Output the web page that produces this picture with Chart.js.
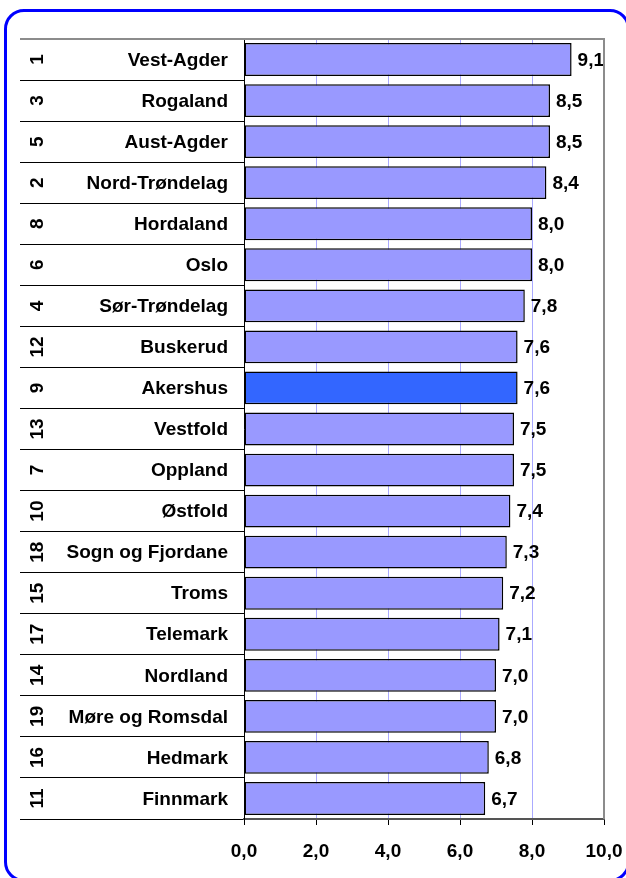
<!DOCTYPE html>
<html>
<head>
<meta charset="utf-8">
<script src="https://cdn.jsdelivr.net/npm/chart.js@4/dist/chart.umd.min.js"></script>
<style>
  html, body { margin: 0; padding: 0; background: #fff; }
  #wrap { position: relative; width: 626px; height: 878px; overflow: hidden; }
  #frame {
    position: absolute; left: 4px; top: 9px; width: 620px; height: 867px;
    border: 3px solid #0000ff; border-radius: 20px; pointer-events: none;
  }
  canvas { position: absolute; left: 0; top: 0; }
</style>
</head>
<body>
<div id="wrap">
  <canvas id="chart" width="626" height="878"></canvas>
  <div id="frame"></div>
</div>
<script>
// Fylker sorted by score, with rank shown in the left column
const counties = ['Vest-Agder', 'Rogaland', 'Aust-Agder', 'Nord-Trøndelag', 'Hordaland', 'Oslo',
  'Sør-Trøndelag', 'Buskerud', 'Akershus', 'Vestfold', 'Oppland', 'Østfold', 'Sogn og Fjordane',
  'Troms', 'Telemark', 'Nordland', 'Møre og Romsdal', 'Hedmark', 'Finnmark'];
const ranks = ['1', '3', '5', '2', '8', '6', '4', '12', '9', '13', '7', '10', '18', '15', '17', '14', '19', '16', '11'];
const scores = [9.1, 8.5, 8.5, 8.4, 8.0, 8.0, 7.8, 7.6, 7.6, 7.5, 7.5, 7.4, 7.3, 7.2, 7.1, 7.0, 7.0, 6.8, 6.7];
const xTicks = [0, 2, 4, 6, 8, 10];
const highlight = 'Akershus';

const FONT = "bold 19px 'Liberation Sans', Arial, sans-serif";
const fmt = v => v.toFixed(1).replace('.', ',');

// Names, rotated rank numbers, value labels and the plot frame
const tablePlugin = {
  id: 'table',
  afterDraw(chart) {
    const ctx = chart.ctx;
    const area = chart.chartArea;
    const yScale = chart.scales.y;
    ctx.save();
    ctx.font = FONT;
    ctx.fillStyle = '#000';
    ctx.textBaseline = 'middle';

    counties.forEach((name, i) => {
      const y = yScale.getPixelForValue(i);
      ctx.textAlign = 'right';
      ctx.fillText(name, area.left - 16, y + 1);
      ctx.save();
      ctx.translate(37, y);
      ctx.rotate(-Math.PI / 2);
      ctx.textAlign = 'center';
      ctx.fillText(ranks[i], 0, 1);
      ctx.restore();
    });

    chart.getDatasetMeta(0).data.forEach((bar, i) => {
      ctx.textAlign = 'left';
      ctx.fillText(fmt(scores[i]), bar.x + 6, bar.y + 1);
    });

    // light grey border on top and right of the plot
    ctx.strokeStyle = '#8c8c8c';
    ctx.lineWidth = 2;
    ctx.beginPath();
    ctx.moveTo(area.left - 224, area.top);
    ctx.lineTo(area.right, area.top);
    ctx.lineTo(area.right, area.bottom);
    ctx.stroke();
    ctx.restore();
  }
};

new Chart(document.getElementById('chart').getContext('2d'), {
  type: 'bar',
  data: {
    labels: counties,
    datasets: [{
      data: scores,
      backgroundColor: counties.map(c => c === highlight ? '#3366ff' : '#9999ff'),
      borderColor: '#000',
      borderWidth: 1.5,
      borderSkipped: false,
      barPercentage: 0.8,
      categoryPercentage: 1
    }]
  },
  options: {
    indexAxis: 'y',
    responsive: false,
    animation: false,
    layout: { padding: { left: 20, top: 39, right: 22, bottom: 0 } },
    plugins: {
      legend: { display: false },
      tooltip: { enabled: false }
    },
    scales: {
      x: {
        min: 0,
        max: 10,
        afterBuildTicks: s => { s.ticks = xTicks.map(v => ({ value: v })); },
        afterFit: s => { s.height = 59; s.paddingLeft = 0; s.paddingRight = 0; },
        border: { color: '#555', width: 2 },
        grid: {
          color: c => c.index === xTicks.length - 1 ? '#8c8c8c' : '#aaaaff',
          lineWidth: 1,
          tickColor: '#000',
          tickLength: 6
        },
        ticks: {
          color: '#000',
          padding: 15,
          font: { family: "'Liberation Sans', Arial, sans-serif", size: 19, weight: 'bold' },
          callback: v => fmt(v)
        }
      },
      y: {
        afterFit: s => { s.width = 224; },
        border: { color: '#000', width: 1 },
        grid: {
          drawOnChartArea: false,
          tickLength: 224,
          color: c => (c.index === 0 || c.index === counties.length) ? '#8c8c8c' : '#000',
          lineWidth: c => (c.index === 0 || c.index === counties.length) ? 2 : 1
        },
        ticks: { display: false }
      }
    }
  },
  plugins: [tablePlugin]
});
</script>
</body>
</html>
